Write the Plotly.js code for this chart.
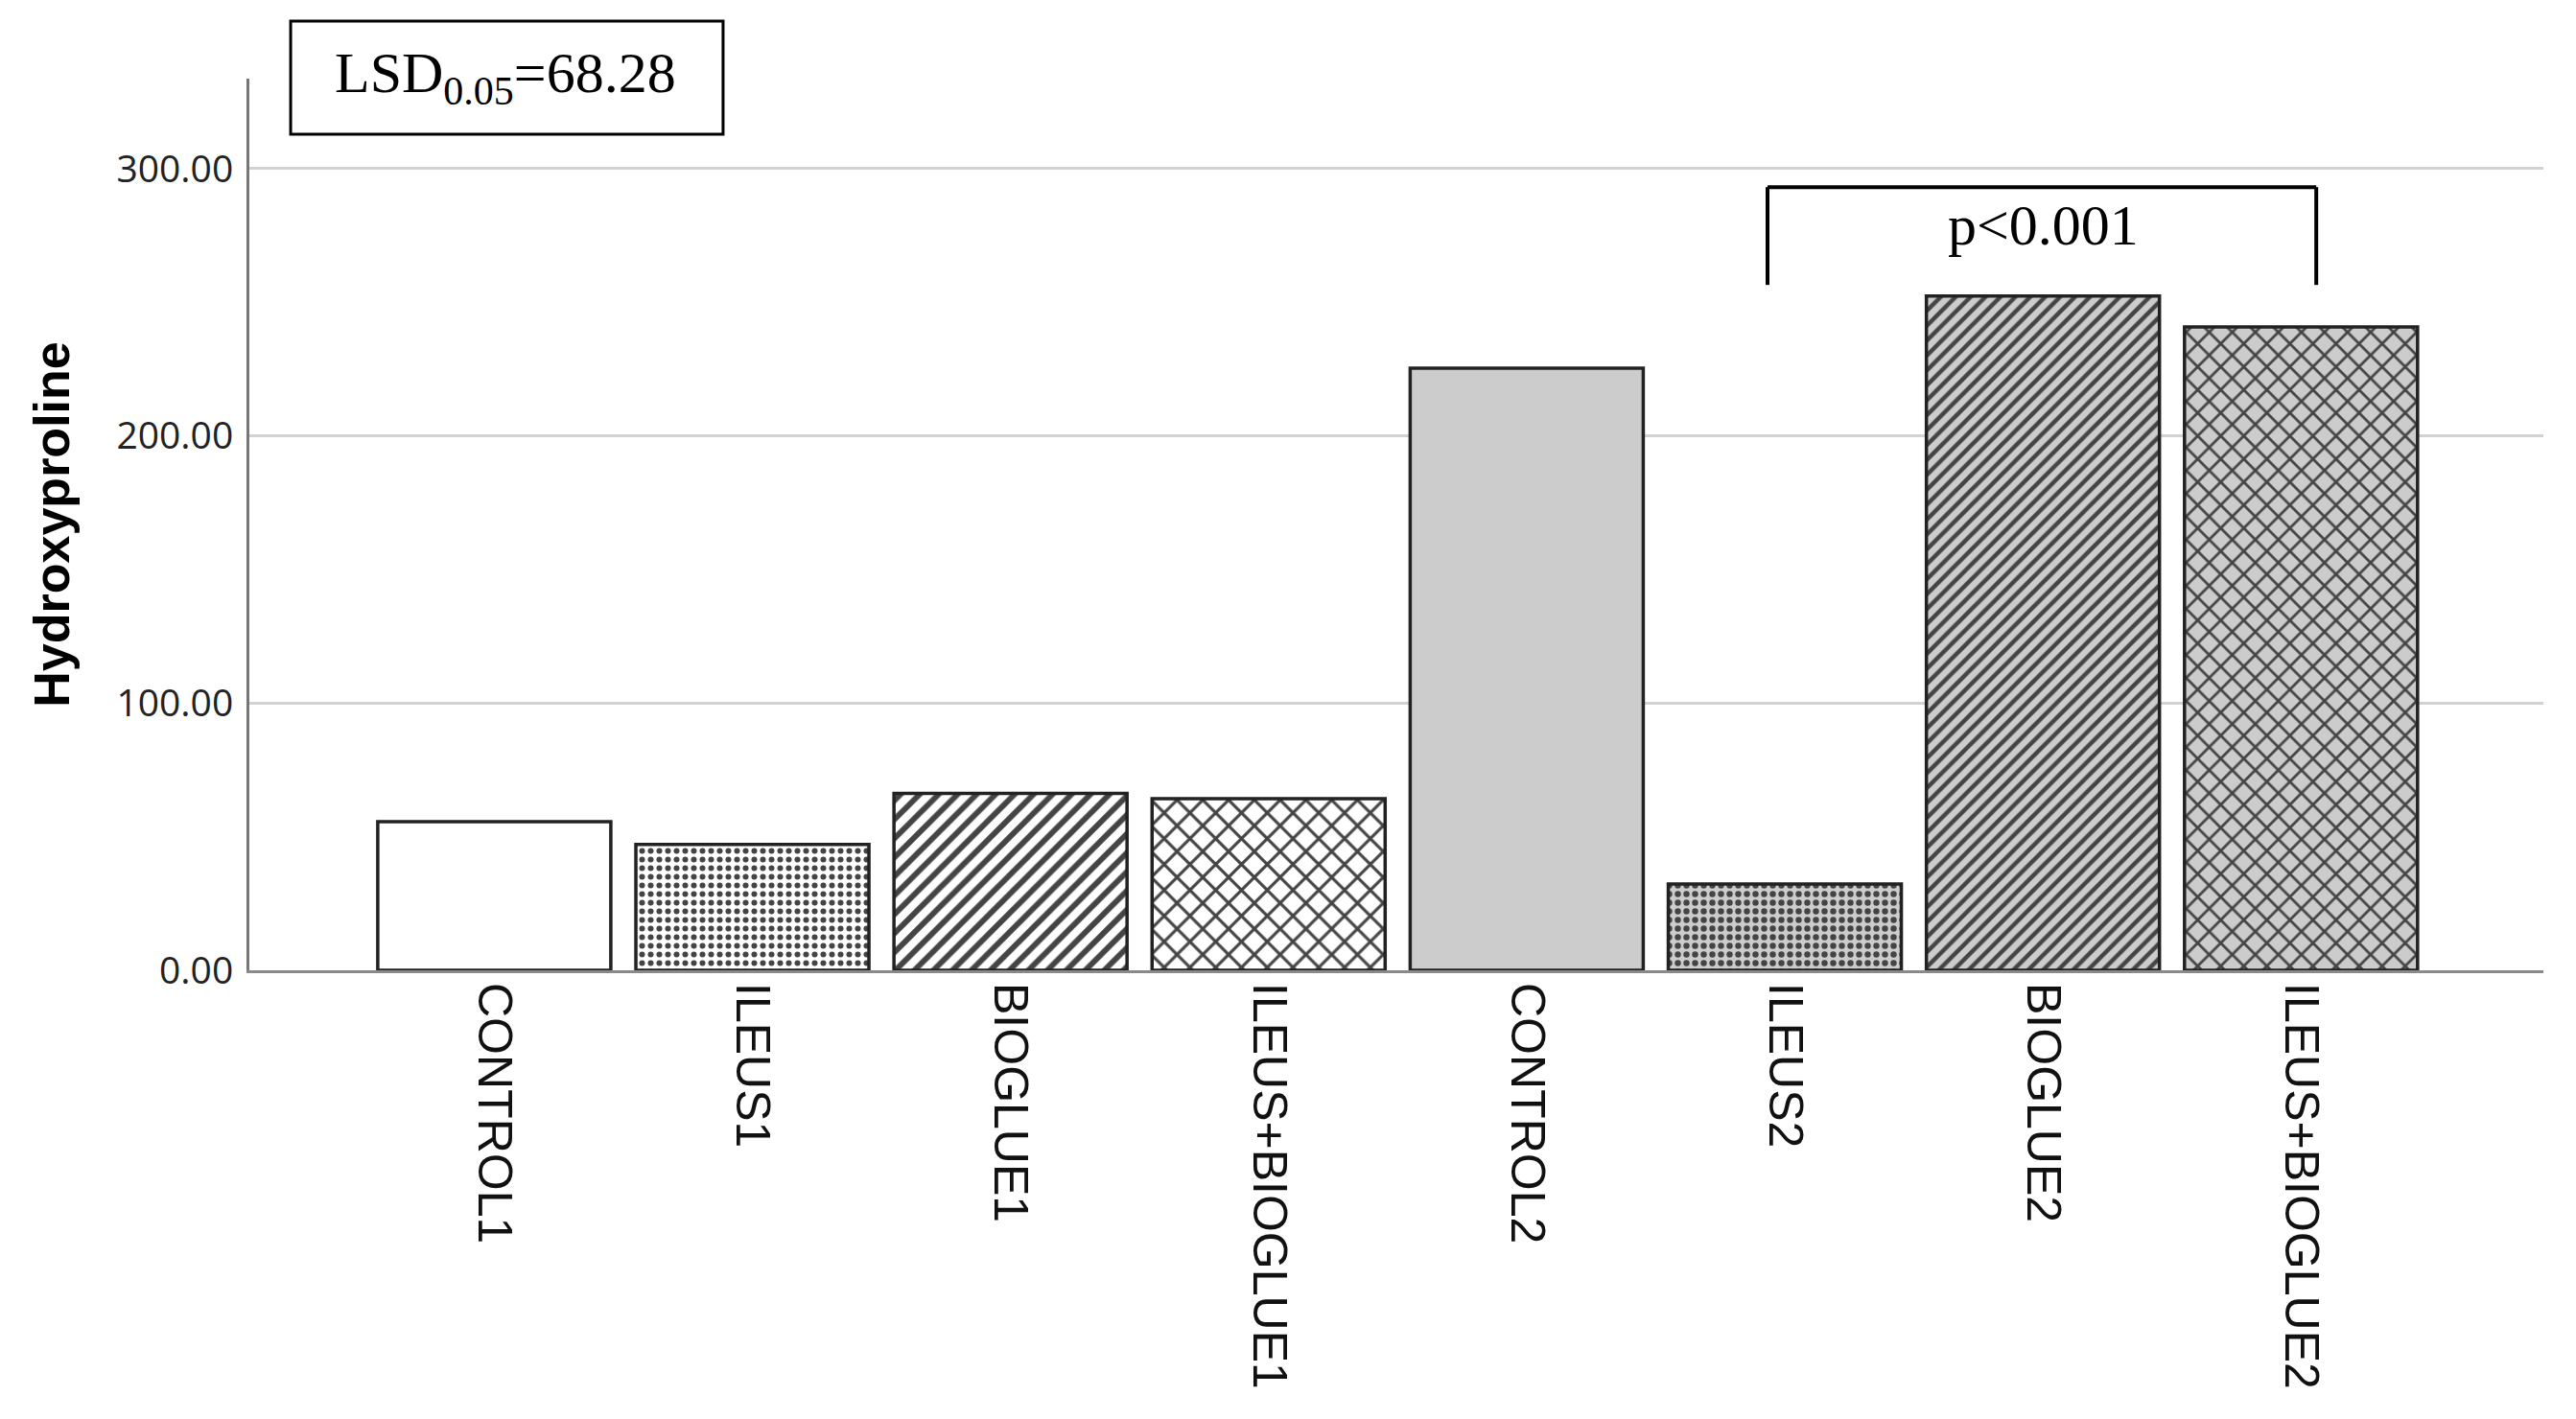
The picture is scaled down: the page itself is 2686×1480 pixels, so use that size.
<!DOCTYPE html>
<html>
<head>
<meta charset="utf-8">
<script src="https://cdn.plot.ly/plotly-3.0.1.min.js"></script>
<style>
  html, body { margin: 0; padding: 0; background: #fff; }
  #chart { width: 2686px; height: 1480px; }
</style>
</head>
<body>
<div id="chart"></div>
<script>
// groups on the x axis
const groups = ['CONTROL1', 'ILEUS1', 'BIOGLUE1', 'ILEUS+BIOGLUE1',
                'CONTROL2', 'ILEUS2', 'BIOGLUE2', 'ILEUS+BIOGLUE2']
// mean hydroxyproline per group
const hydroxyproline = [55.6, 47.1, 66.2, 64.2, 225.3, 32.3, 252.3, 240.8]
const yTicks = [0, 100, 200, 300]
const lsdText = 'LSD<sub>0.05</sub>=68.28'
const pText = 'p&lt;0.001'

// bar styling (white for period 1, grey for period 2)
const fills = ['#ffffff', '#ffffff', '#ffffff', '#ffffff', '#cccccc', '#cccccc', '#cccccc', '#cccccc']
const hatch = ['', '.', '/', 'x', '', '.', '/', 'x']
const hatchColor = ['#000', '#c2c2c2', '#1a1a1a', '#111', '#000', '#8f8f8f', '#222', '#111']
const hatchSize = [10, 9, 14, 19, 10, 9, 11, 17]
const hatchSolid = [0.3, 0.35, 0.42, 0.3, 0.3, 0.4, 0.4, 0.3]

const bars = {
    type: 'bar',
    x: groups,
    y: hydroxyproline,
    marker: {
        color: fills,
        line: { color: '#222', width: 3.5 },
        pattern: {
            shape: hatch,
            fgcolor: hatchColor,
            fgopacity: 1,
            size: hatchSize,
            solidity: hatchSolid,
            fillmode: 'overlay',
        },
    },
    hoverinfo: 'x+y',
}

const bracket = { color: '#000', width: 4 }

const layout = {
    width: 2686,
    height: 1480,
    margin: { l: 260, r: 34, t: 82, b: 468 },
    paper_bgcolor: '#fff',
    plot_bgcolor: '#fff',
    showlegend: false,
    bargap: 0.097,
    xaxis: {
        type: 'category',
        range: [-0.949, 7.939],
        tickangle: 90,
        ticks: '',
        ticklabelstandoff: 0,
        tickfont: { family: 'Liberation Sans, Arial, sans-serif', size: 50, color: '#111' },
        showline: true,
        linecolor: '#8a8a8a',
        linewidth: 3,
        showgrid: false,
        zeroline: false,
    },
    yaxis: {
        range: [0, 333.7],
        tickvals: yTicks,
        tickformat: '.2f',
        ticks: '',
        ticklabelstandoff: 6,
        tickfont: { family: 'Open Sans, Liberation Sans, sans-serif', size: 39, color: '#222' },
        showgrid: true,
        gridcolor: '#d2d2d2',
        gridwidth: 3,
        zeroline: false,
        showline: true,
        linecolor: '#777',
        linewidth: 3,
        title: {
            text: 'Hydroxyproline',
            standoff: 33,
            font: { family: 'Liberation Sans, Arial, sans-serif', size: 52, color: '#000', weight: 'bold' },
        },
    },
    shapes: [
        // LSD box
        { type: 'rect', xref: 'paper', yref: 'paper', x0: 0.018, x1: 0.2065, y0: 0.9376, y1: 1.0645,
          line: { color: '#000', width: 3 }, fillcolor: '#fff' },
        // significance bracket ILEUS2 .. ILEUS+BIOGLUE2
        { type: 'line', xref: 'x', yref: 'y', x0: 4.933, x1: 7.059, y0: 293.1, y1: 293.1, line: bracket },
        { type: 'line', xref: 'x', yref: 'y', x0: 4.933, x1: 4.933, y0: 256.5, y1: 293.1, line: bracket },
        { type: 'line', xref: 'x', yref: 'y', x0: 7.059, x1: 7.059, y0: 256.5, y1: 293.1, line: bracket },
    ],
    annotations: [
        { text: lsdText, xref: 'paper', yref: 'paper', x: 0.1118, y: 1.002,
          xanchor: 'center', yanchor: 'middle', showarrow: false,
          font: { family: 'Liberation Serif, Times New Roman, serif', size: 60, color: '#000' } },
        { text: pText, xref: 'x', yref: 'y', x: 6.0, y: 278.8,
          xanchor: 'center', yanchor: 'middle', showarrow: false,
          font: { family: 'Liberation Serif, Times New Roman, serif', size: 60, color: '#000' } },
    ],
}

Plotly.newPlot('chart', [bars], layout, { displayModeBar: false, staticPlot: true })
</script>
</body>
</html>
